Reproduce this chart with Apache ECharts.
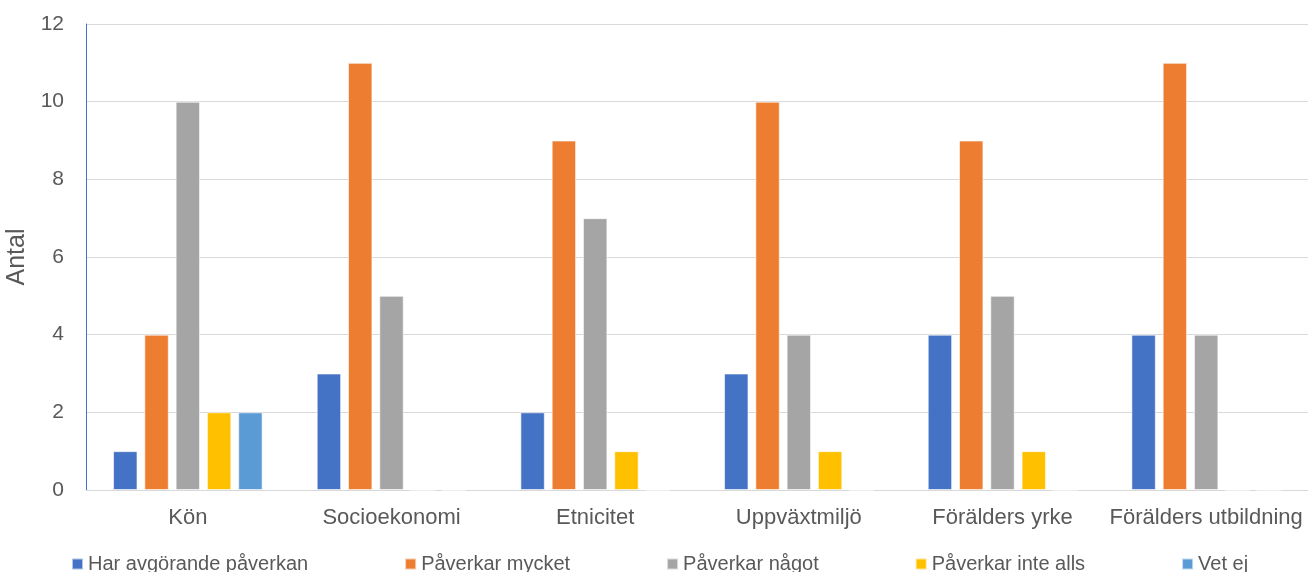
<!DOCTYPE html>
<html>
<head>
<meta charset="utf-8">
<script src="https://cdn.jsdelivr.net/npm/echarts@6/dist/echarts.min.js"></script>
<style>html,body{margin:0;padding:0;background:#fff;}#c{width:1309px;height:572px;}</style>
</head>
<body>
<div id="c"></div>
<script>
var categories = ['Kön', 'Socioekonomi', 'Etnicitet', 'Uppväxtmiljö', 'Förälders yrke', 'Förälders utbildning'];
var seriesNames = ['Har avgörande påverkan', 'Påverkar mycket', 'Påverkar något', 'Påverkar inte alls', 'Vet ej'];
var harAvgorande = [1, 3, 2, 3, 4, 4];
var paverkarMycket = [4, 11, 9, 10, 9, 11];
var paverkarNagot = [10, 5, 7, 4, 5, 4];
var paverkarInteAlls = [2, 0, 1, 1, 1, 0];
var vetEj = [2, 0, 0, 0, 0, 0];
var yTicks = [0, 2, 4, 6, 8, 10, 12];

var colors = ['#4472C4', '#ED7D31', '#A5A5A5', '#FFC000', '#5B9BD5'];
var values = [harAvgorande, paverkarMycket, paverkarNagot, paverkarInteAlls, vetEj];
var font = 'Helvetica, Arial, "Liberation Sans", sans-serif';

var chart = echarts.init(document.getElementById('c'));
chart.setOption({
  animation: false,
  color: colors,
  grid: { left: 86, right: 1, top: 24, bottom: 82, containLabel: false, outerBoundsMode: 'none' },
  legend: {
    left: 71,
    top: 554,
    padding: 0,
    itemWidth: 11,
    itemHeight: 11,
    itemGap: 96,
    icon: 'rect',
    textStyle: { color: '#595959', fontSize: 20, fontFamily: font },
    data: seriesNames
  },
  xAxis: {
    type: 'category',
    data: categories,
    axisLine: { show: true, lineStyle: { color: '#D9D9D9', width: 1 } },
    axisTick: { show: false },
    axisLabel: { color: '#595959', fontSize: 22, fontFamily: font, margin: 17, interval: 0, hideOverlap: false }
  },
  yAxis: {
    type: 'value',
    min: yTicks[0],
    max: yTicks[yTicks.length - 1],
    interval: 2,
    name: 'Antal',
    nameLocation: 'middle',
    nameGap: 51,
    nameTextStyle: { color: '#595959', fontSize: 25, fontFamily: font },
    axisLine: { show: true, lineStyle: { color: '#4472C4', width: 1 } },
    axisTick: { show: false },
    axisLabel: { color: '#595959', fontSize: 21, fontFamily: font, margin: 22 },
    splitLine: { lineStyle: { color: '#D9D9D9', width: 1 } }
  },
  series: seriesNames.map(function (n, i) {
    return {
      name: n,
      type: 'bar',
      data: values[i],
      barWidth: '12%',
      barGap: '28%',
      itemStyle: { color: colors[i], borderColor: 'rgba(255,255,255,0.6)', borderWidth: 1 }
    };
  })
});
</script>
</body>
</html>
